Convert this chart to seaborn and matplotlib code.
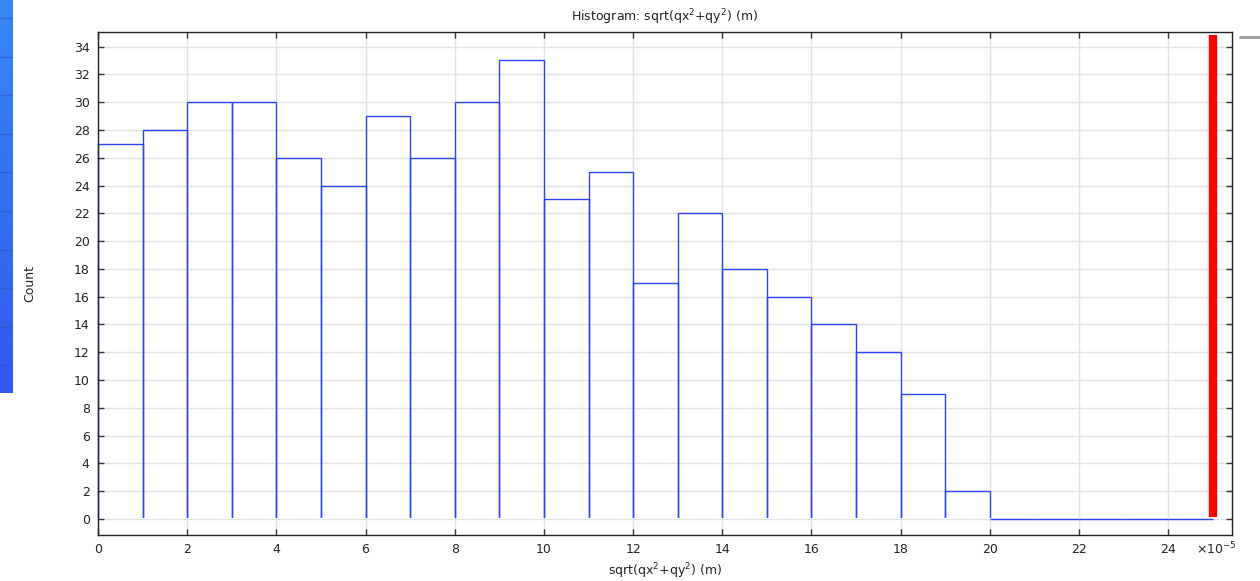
import numpy as np
import pandas as pd
import matplotlib
matplotlib.use("Agg")
import matplotlib.pyplot as plt
import seaborn as sns
from matplotlib.colors import LinearSegmentedColormap
from matplotlib.patches import Rectangle

# ---- data (x in units of 1e-5 m) ----
bin_edges = [0, 1, 2, 3, 4, 5, 6, 7, 8, 9, 10, 11, 12, 13, 14, 15, 16, 17, 18, 19, 20, 21, 22, 23, 24, 25]
counts = [27, 28, 30, 30, 26, 24, 29, 26, 30, 33, 23, 25, 17, 22, 18, 16, 14, 12, 9, 2, 0, 0, 0, 0, 0]
x_ticks = [0, 2, 4, 6, 8, 10, 12, 14, 16, 18, 20, 22, 24]
y_ticks = [0, 2, 4, 6, 8, 10, 12, 14, 16, 18, 20, 22, 24, 26, 28, 30, 32, 34]
marker_x = 25.0
marker_top = 34.8

centers = [(a + b) / 2 for a, b in zip(bin_edges[:-1], bin_edges[1:])]
df = pd.DataFrame({"r": centers, "n": counts})

sns.set_theme(style="white")
plt.rcParams["font.family"] = ["DejaVu Sans"]

W, H = 1260, 581
fig = plt.figure(figsize=(W / 100, H / 100), dpi=100)
ax = fig.add_axes([98 / W, 1 - 535 / H, (1232 - 98) / W, (535 - 32) / H])

sns.histplot(data=df, x="r", weights="n", bins=bin_edges, element="bars",
             fill=False, color="#1f3dff", linewidth=1.0, ax=ax)
for p in ax.patches:
    p.set_edgecolor("#2a45f5")
    p.set_linewidth(1.0)
    if p.get_height() > 0:
        # hide the bottom edge of non-empty bars (outline drawn without base)
        clip = Rectangle((-1, 0.06), 40, 100, transform=ax.transData)
        p.set_clip_path(clip)

ax.plot([marker_x, marker_x], [0.15, marker_top], color="#ff0000", linewidth=6.0,
        solid_capstyle="butt", zorder=5)

ax.set_xlim(0, 25.43)
ax.set_ylim(-1.15, 35.05)
ax.set_xticks(x_ticks)
ax.set_yticks(y_ticks)
ax.grid(True, color="#e3e3e3", linewidth=1.0)
ax.set_axisbelow(True)
ax.tick_params(axis="both", direction="in", length=4, width=1, color="#333333",
               labelsize=9, labelcolor="#222222", top=True, right=True,
               bottom=True, left=True, pad=6)
for s in ax.spines.values():
    s.set_color("#222222")
    s.set_linewidth(1.0)

ax.set_xlabel("sqrt(qx$^2$+qy$^2$) (m)", fontsize=9, color="#222222", labelpad=4)
ax.set_ylabel("")
ax.set_title("Histogram: sqrt(qx$^2$+qy$^2$) (m)", fontsize=9, color="#222222", pad=8)
fig.text(30 / W, 1 - 283 / H, "Count", rotation=90, fontsize=9, color="#222222",
         ha="center", va="center")
fig.text(1196 / W, 1 - 549 / H, r"$\times$10$^{-5}$", fontsize=9, color="#222222",
         ha="left", va="center")

# left UI strip
sax = fig.add_axes([0, 1 - 393 / H, 13 / W, 393 / H])
cmap = LinearSegmentedColormap.from_list("strip", ["#3688f5", "#3358f0"])
sax.imshow(np.linspace(0, 1, 100).reshape(-1, 1), aspect="auto", cmap=cmap,
           extent=[0, 1, 393, 0])
for yy in np.arange(18, 393, 38.6):
    sax.axhline(yy, color="#2a55c0", linewidth=1.0, alpha=0.6)
sax.set_xlim(0, 1)
sax.set_ylim(393, 0)
sax.axis("off")

# small grey line at top right
fig.add_artist(plt.Line2D([1240 / W, 1260 / W], [1 - 37 / H, 1 - 37 / H],
                          color="#999999", linewidth=2.0))

fig.savefig("out.png", dpi=100)
